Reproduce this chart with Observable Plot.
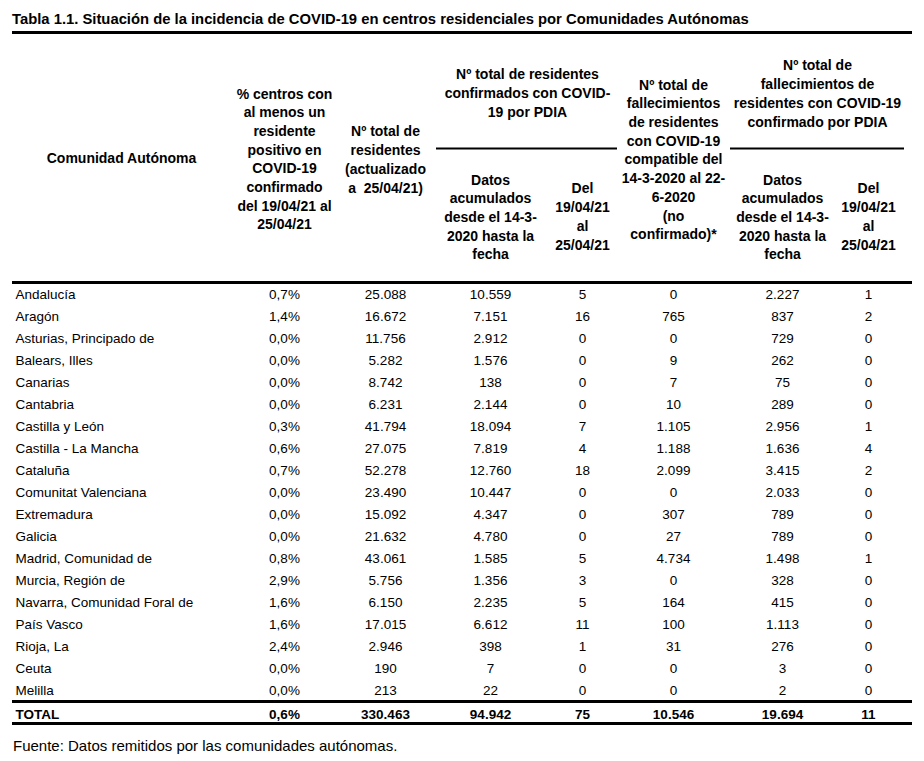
<!DOCTYPE html>
<html>
<head>
<meta charset="utf-8">
<script src="https://cdn.jsdelivr.net/npm/d3@7"></script>
<script src="https://cdn.jsdelivr.net/npm/@observablehq/plot@0.6"></script>
<style>
  html, body { margin: 0; padding: 0; background: #fff; }
  body { width: 924px; height: 761px; overflow: hidden; font-family: Arial, "Liberation Sans", sans-serif; color: #000; }
  #title { box-sizing: border-box; height: 34px; margin: 0 12px; padding-top: 11px; font-size: 14.8px; font-weight: bold; line-height: 17px; border-bottom: 3px solid #000; white-space: nowrap; }
  #chart svg { display: block; }
  #foot { margin: 0 0 0 13px; font-size: 15px; line-height: 18px; padding-top: 2px; }
</style>
</head>
<body>
<div id="title">Tabla 1.1. Situación de la incidencia de COVID-19 en centros residenciales por Comunidades Autónomas</div>
<div id="chart"></div>
<div id="foot"></div>
<script>
// ---- Data ----
const regions = ["Andalucía", "Aragón", "Asturias, Principado de", "Balears, Illes", "Canarias", "Cantabria",
  "Castilla y León", "Castilla - La Mancha", "Cataluña", "Comunitat Valenciana", "Extremadura", "Galicia",
  "Madrid, Comunidad de", "Murcia, Región de", "Navarra, Comunidad Foral de", "País Vasco", "Rioja, La", "Ceuta", "Melilla"];
const pctCentros = [0.7, 1.4, 0.0, 0.0, 0.0, 0.0, 0.3, 0.6, 0.7, 0.0, 0.0, 0.0, 0.8, 2.9, 1.6, 1.6, 2.4, 0.0, 0.0];
const totalResidentes = [25088, 16672, 11756, 5282, 8742, 6231, 41794, 27075, 52278, 23490, 15092, 21632, 43061, 5756, 6150, 17015, 2946, 190, 213];
const confirmadosAcum = [10559, 7151, 2912, 1576, 138, 2144, 18094, 7819, 12760, 10447, 4347, 4780, 1585, 1356, 2235, 6612, 398, 7, 22];
const confirmadosSemana = [5, 16, 0, 0, 0, 0, 7, 4, 18, 0, 0, 0, 5, 3, 5, 11, 1, 0, 0];
const fallecCompatibles = [0, 765, 0, 9, 7, 10, 1105, 1188, 2099, 0, 307, 27, 4734, 0, 164, 100, 31, 0, 0];
const fallecAcum = [2227, 837, 729, 262, 75, 289, 2956, 1636, 3415, 2033, 789, 789, 1498, 328, 415, 1113, 276, 3, 2];
const fallecSemana = [1, 2, 0, 0, 0, 0, 1, 4, 2, 0, 0, 0, 1, 0, 0, 0, 0, 0, 0];
const totalRow = {label: "TOTAL", pct: 0.6, res: 330463, ca: 94942, cs: 75, fc: 10546, fa: 19694, fs: 11};

const colKeys = ["name", "pct", "res", "ca", "cs", "fc", "fa", "fs"];
const headerCells = [
  {col: "name", lines: ["Comunidad Autónoma"]},
  {col: "pct", lines: ["% centros con", "al menos un", "residente", "positivo en", "COVID-19", "confirmado", "del 19/04/21 al", "25/04/21"]},
  {col: "res", lines: ["Nº total de", "residentes", "(actualizado", "a  25/04/21)"]},
  {col: "ca", lines: ["Datos", "acumulados", "desde el 14-3-", "2020 hasta la", "fecha"]},
  {col: "cs", lines: ["Del", "19/04/21", "al", "25/04/21"]},
  {col: "fc", lines: ["Nº total de", "fallecimientos", "de residentes", "con COVID-19", "compatible del", "14-3-2020 al 22-", "6-2020", "(no", "confirmado)*"]},
  {col: "fa", lines: ["Datos", "acumulados", "desde el 14-3-", "2020 hasta la", "fecha"]},
  {col: "fs", lines: ["Del", "19/04/21", "al", "25/04/21"]}
];
const groupHeaders = [
  {from: "ca", to: "cs", lines: ["Nº total de residentes", "confirmados con COVID-", "19 por PDIA"]},
  {from: "fa", to: "fs", lines: ["Nº total de", "fallecimientos de", "residentes con COVID-19", "confirmado por PDIA"]}
];
const footnote = "Fuente: Datos remitidos por las comunidades autónomas.";

// ---- Layout (pixel layout, not data) ----
const W = 924, H = 701;
const colX = {name: 15, pct: 284, res: 385, ca: 490, cs: 582, fc: 673, fa: 782, fs: 868};
const headerX = {...colX, name: 121};
const groupX = {ca: 527, fa: 817};
const groupSpan = {ca: [436, 617], fa: [730, 904]};
const headerY = {name: 123, pct: 123.5, res: 124, ca: 181.5, cs: 181, fc: 124, fa: 181.5, fs: 181};
const groupY = {ca: 57, fa: 57.5};
const rowY0 = 260, rowStep = 22;
const totalY = 680;
const left = 12, right = 912;

const es = d3.formatLocale({decimal: ",", thousands: ".", grouping: [3], currency: ["", " €"]});
const fmtInt = es.format(",d");
const fmtPct = v => es.format(".1f")(v) + "%";

const values = {pct: pctCentros, res: totalResidentes, ca: confirmadosAcum, cs: confirmadosSemana, fc: fallecCompatibles, fa: fallecAcum, fs: fallecSemana};

const cells = [];
regions.forEach((r, i) => {
  const y = rowY0 + i * rowStep;
  cells.push({x: colX.name, y, text: r, anchor: "start"});
  for (const k of colKeys.slice(1)) {
    const v = values[k][i];
    cells.push({x: colX[k], y, text: k === "pct" ? fmtPct(v) : fmtInt(v), anchor: "middle"});
  }
});
const totalCells = [{x: colX.name, y: totalY, text: totalRow.label, anchor: "start"}];
for (const k of colKeys.slice(1)) {
  totalCells.push({x: colX[k], y: totalY, text: k === "pct" ? fmtPct(totalRow[k]) : fmtInt(totalRow[k]), anchor: "middle"});
}

const headers = headerCells.map(h => ({x: headerX[h.col], y: headerY[h.col], text: h.lines.join("\n")}));
const groups = groupHeaders.map(g => ({x: groupX[g.from], y: groupY[g.from], text: g.lines.join("\n"), x1: groupSpan[g.from][0], x2: groupSpan[g.from][1]}));

const thickRules = [{y: 248}, {y: 667}, {y: 689}];

const chart = Plot.plot({
  width: W, height: H,
  margin: 0,
  x: {type: "linear", domain: [0, W], range: [0, W], axis: null},
  y: {type: "linear", domain: [0, H], range: [0, H], axis: null},
  style: {fontFamily: "Arial, 'Liberation Sans', sans-serif", background: "#fff", color: "#000"},
  marks: [
    Plot.ruleY(thickRules, {y: "y", x1: left, x2: right, stroke: "#000", strokeWidth: 3}),
    Plot.ruleY(groups, {y: 114, x1: "x1", x2: "x2", stroke: "#000", strokeWidth: 2}),
    Plot.text(headers, {x: "x", y: "y", text: "text", fontSize: 14, fontWeight: "bold", lineHeight: 1.335, lineAnchor: "middle", textAnchor: "middle", fill: "#000"}),
    Plot.text(groups, {x: "x", y: "y", text: "text", fontSize: 14, fontWeight: "bold", lineHeight: 1.36, lineAnchor: "middle", textAnchor: "middle", fill: "#000"}),
    Plot.text(cells.filter(d => d.anchor === "start"), {x: "x", y: "y", text: "text", fontSize: 13.5, textAnchor: "start", fill: "#000"}),
    Plot.text(cells.filter(d => d.anchor === "middle"), {x: "x", y: "y", text: "text", fontSize: 13.5, textAnchor: "middle", fill: "#000"}),
    Plot.text(totalCells.filter(d => d.anchor === "start"), {x: "x", y: "y", text: "text", fontSize: 13.5, fontWeight: "bold", textAnchor: "start", fill: "#000"}),
    Plot.text(totalCells.filter(d => d.anchor === "middle"), {x: "x", y: "y", text: "text", fontSize: 13.5, fontWeight: "bold", textAnchor: "middle", fill: "#000"})
  ]
});
document.getElementById("chart").appendChild(chart);
document.getElementById("foot").textContent = footnote;
</script>
</body>
</html>
